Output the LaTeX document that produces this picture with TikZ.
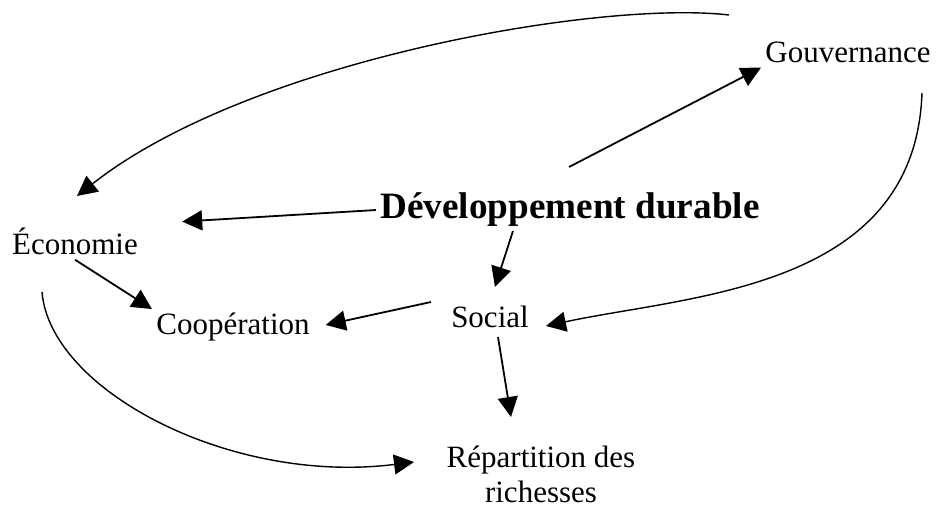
\documentclass[tikz,border=0pt]{standalone}
\usepackage{fontspec}
\setmainfont{Liberation Serif}
\usetikzlibrary{arrows.meta}

\begin{document}
\begin{tikzpicture}[x=0.5pt,y=-0.5pt,>={Triangle[length=10pt,width=10pt]},
		every node/.style={inner sep=2pt,font=\fontsize{15.5}{17.5}\selectfont},
		plainarrow/.style={->,line width=0.9pt},
		curvearrow/.style={->,line width=0.7pt}]
			\useasboundingbox (0,0) rectangle (938,506);

			\node [anchor=base,font=\fontsize{18.6}{22}\selectfont\bfseries] (dd) at (570,219) {Développement durable};
			\node [anchor=base] (gouv) at (848,63) {Gouvernance};
			\node [anchor=base] (eco) at (75,255) {Économie};
			\node [anchor=base] (coop) at (233,335) {Coopération};
			\node [anchor=base] (social) at (490,328) {Social};
			\node [anchor=north,align=center,inner sep=0pt] (rep) at (541,446) {Répartition des\\richesses};

			\coordinate (ddTop) at (569,167);
			\coordinate (ddBottom) at (513,231);
			\coordinate (socialLeft) at (431,302);
			\coordinate (socialBottom) at (498,337);
			\coordinate (repTop) at (511,417);
			\coordinate (ecoBottom) at (42,292);
			\coordinate (repLeft) at (414,462);
			\coordinate (gouvTop) at (729,15);
			\coordinate (ecoTop) at (77,196);
			\coordinate (gouvRight) at (922,93);
			\coordinate (socialRight) at (546,326);

			\draw [plainarrow,shorten >=20pt] (dd.west) -- (eco.north east);
			\draw [plainarrow] (ddTop) -- (gouv.south west);
			\draw [plainarrow,shorten >=8pt] (ddBottom) -- (social.north);
			\draw [plainarrow,shorten >=6pt] (socialLeft) -- (coop.east);
			\draw [plainarrow] (eco.south) -- (coop.north west);
			\draw [plainarrow] (socialBottom) -- (repTop);

			\draw [curvearrow] (ecoBottom) .. controls (50,390) and (230,485) .. (repLeft);
			\draw [curvearrow] (gouvTop) .. controls (600,0) and (250,60) .. (ecoTop);
			\draw [curvearrow] (gouvRight) .. controls (915,290) and (690,295) .. (socialRight);
		\end{tikzpicture}
\end{document}
